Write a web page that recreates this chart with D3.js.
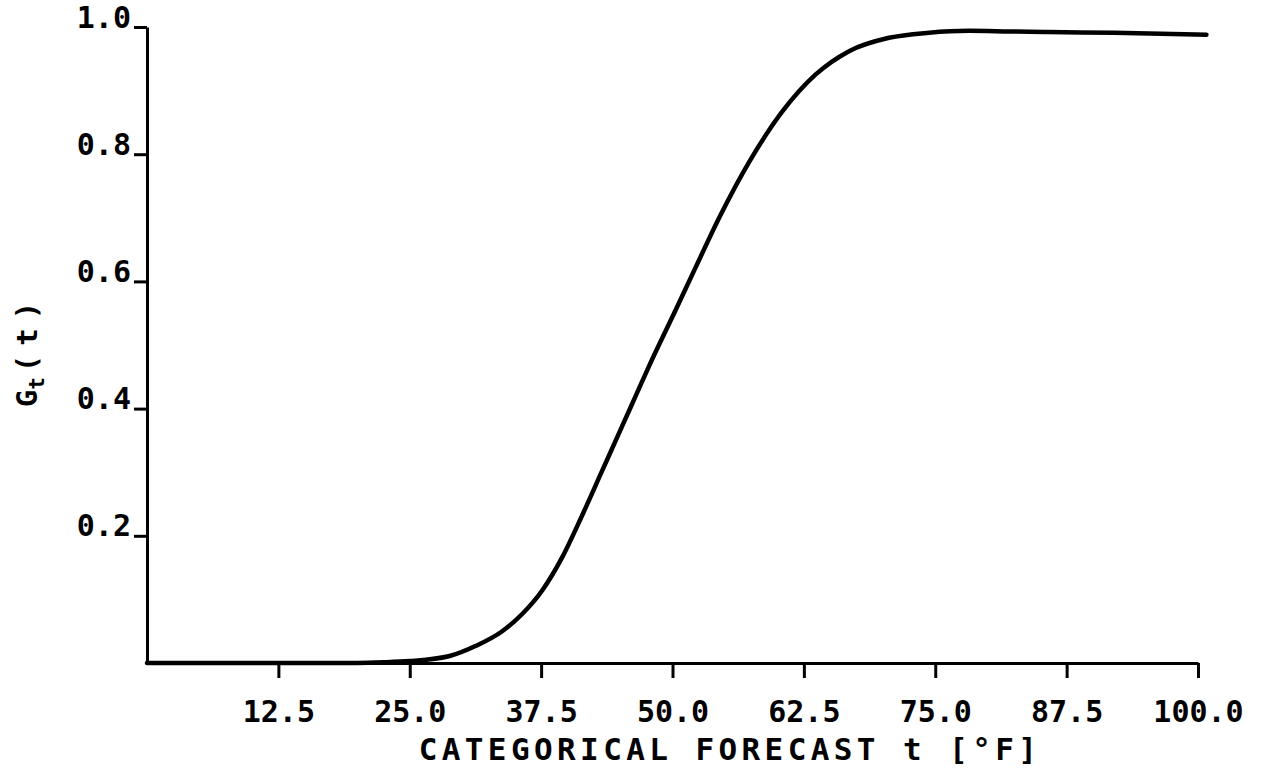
<!DOCTYPE html>
<html>
<head>
<meta charset="utf-8">
<script src="https://cdn.jsdelivr.net/npm/d3@7"></script>
<style>
  body { margin: 0; background: #fff; }
  text { font-family: "DejaVu Sans Mono", monospace; font-weight: bold; fill: #000; }
</style>
</head>
<body>
<div id="chart-area"></div>
<script>
// values
var forecastT = [0, 10, 20, 22.5, 25, 28.8, 31.3, 33.8, 35.7, 37.6, 39.5, 41.4, 43.3, 45.2, 46.5, 47.8,
                 50.3, 52.2, 54.5, 57.3, 60.4, 63.6, 66.8, 70.6, 74.4, 78.2, 82, 85.8, 92, 100.8];
var gValues   = [0, 0, 0, 0.001, 0.003, 0.011, 0.027, 0.05, 0.077, 0.114, 0.166, 0.232, 0.302, 0.372, 0.42, 0.468,
                 0.555, 0.622, 0.702, 0.788, 0.866, 0.925, 0.962, 0.983, 0.991, 0.994, 0.993, 0.992, 0.991, 0.988];
var xTicks = [12.5, 25.0, 37.5, 50.0, 62.5, 75.0, 87.5, 100.0];
var yTicks = [0.2, 0.4, 0.6, 0.8, 1.0];

var data = forecastT.map(function(t, i) { return {t: t, g: gValues[i]}; });

var margin = {left: 147, right: 75, top: 27, bottom: 106};
var width = 1273 - margin.left - margin.right;
var height = 769 - margin.top - margin.bottom;

var svg = d3.select("#chart-area")
    .append("svg")
    .attr("width", 1273)
    .attr("height", 769);

var g = svg.append("g")
    .attr("transform", "translate(" + margin.left + ", " + margin.top + ")");

var x = d3.scaleLinear().domain([0, 100]).range([0, width]);
var y = d3.scaleLinear().domain([0, 1]).range([height, 0]);

// x axis
var xAxisCall = d3.axisBottom(x).tickValues(xTicks).tickSize(15).tickSizeOuter(0)
    .tickFormat(d3.format(".1f"));
var xAxis = g.append("g")
    .attr("class", "x axis")
    .attr("transform", "translate(0, " + height + ")")
    .call(xAxisCall);
xAxis.selectAll("text")
    .attr("y", 59)
    .attr("dy", 0)
    .attr("font-size", "30px");

// y axis
var yAxisCall = d3.axisLeft(y).tickValues(yTicks).tickSize(13).tickSizeOuter(0)
    .tickFormat(d3.format(".1f"));
var yAxis = g.append("g")
    .attr("class", "y axis")
    .call(yAxisCall);
yAxis.selectAll("text")
    .attr("x", -16)
    .attr("dy", 0)
    .attr("font-size", "30px");

svg.selectAll(".axis path, .axis line")
    .attr("stroke", "#000")
    .attr("stroke-width", 3);
svg.selectAll(".axis text").attr("font-family", null);

// curve
var line = d3.line()
    .x(function(d) { return x(d.t); })
    .y(function(d) { return y(d.g); })
    .curve(d3.curveMonotoneX);

g.append("path")
    .datum(data)
    .attr("fill", "none")
    .attr("stroke", "#000")
    .attr("stroke-width", 4.5)
    .attr("stroke-linecap", "round")
    .attr("d", line);

// axis titles
svg.append("text")
    .attr("x", 730)
    .attr("y", 760)
    .attr("font-size", "31px")
    .attr("letter-spacing", "4.4px")
    .attr("text-anchor", "middle")
    .text("CATEGORICAL FORECAST t [\u00b0F]");

var yLabel = svg.append("text")
    .attr("transform", "translate(37, 350) rotate(-90)")
    .attr("font-size", "29px")
    .attr("text-anchor", "middle");
yLabel.append("tspan").text("G");
yLabel.append("tspan").attr("dy", 7).attr("font-size", "21px").text("t");
yLabel.append("tspan").attr("dy", -7).attr("dx", 5).attr("letter-spacing", "9px").text("(t)");
</script>
</body>
</html>
